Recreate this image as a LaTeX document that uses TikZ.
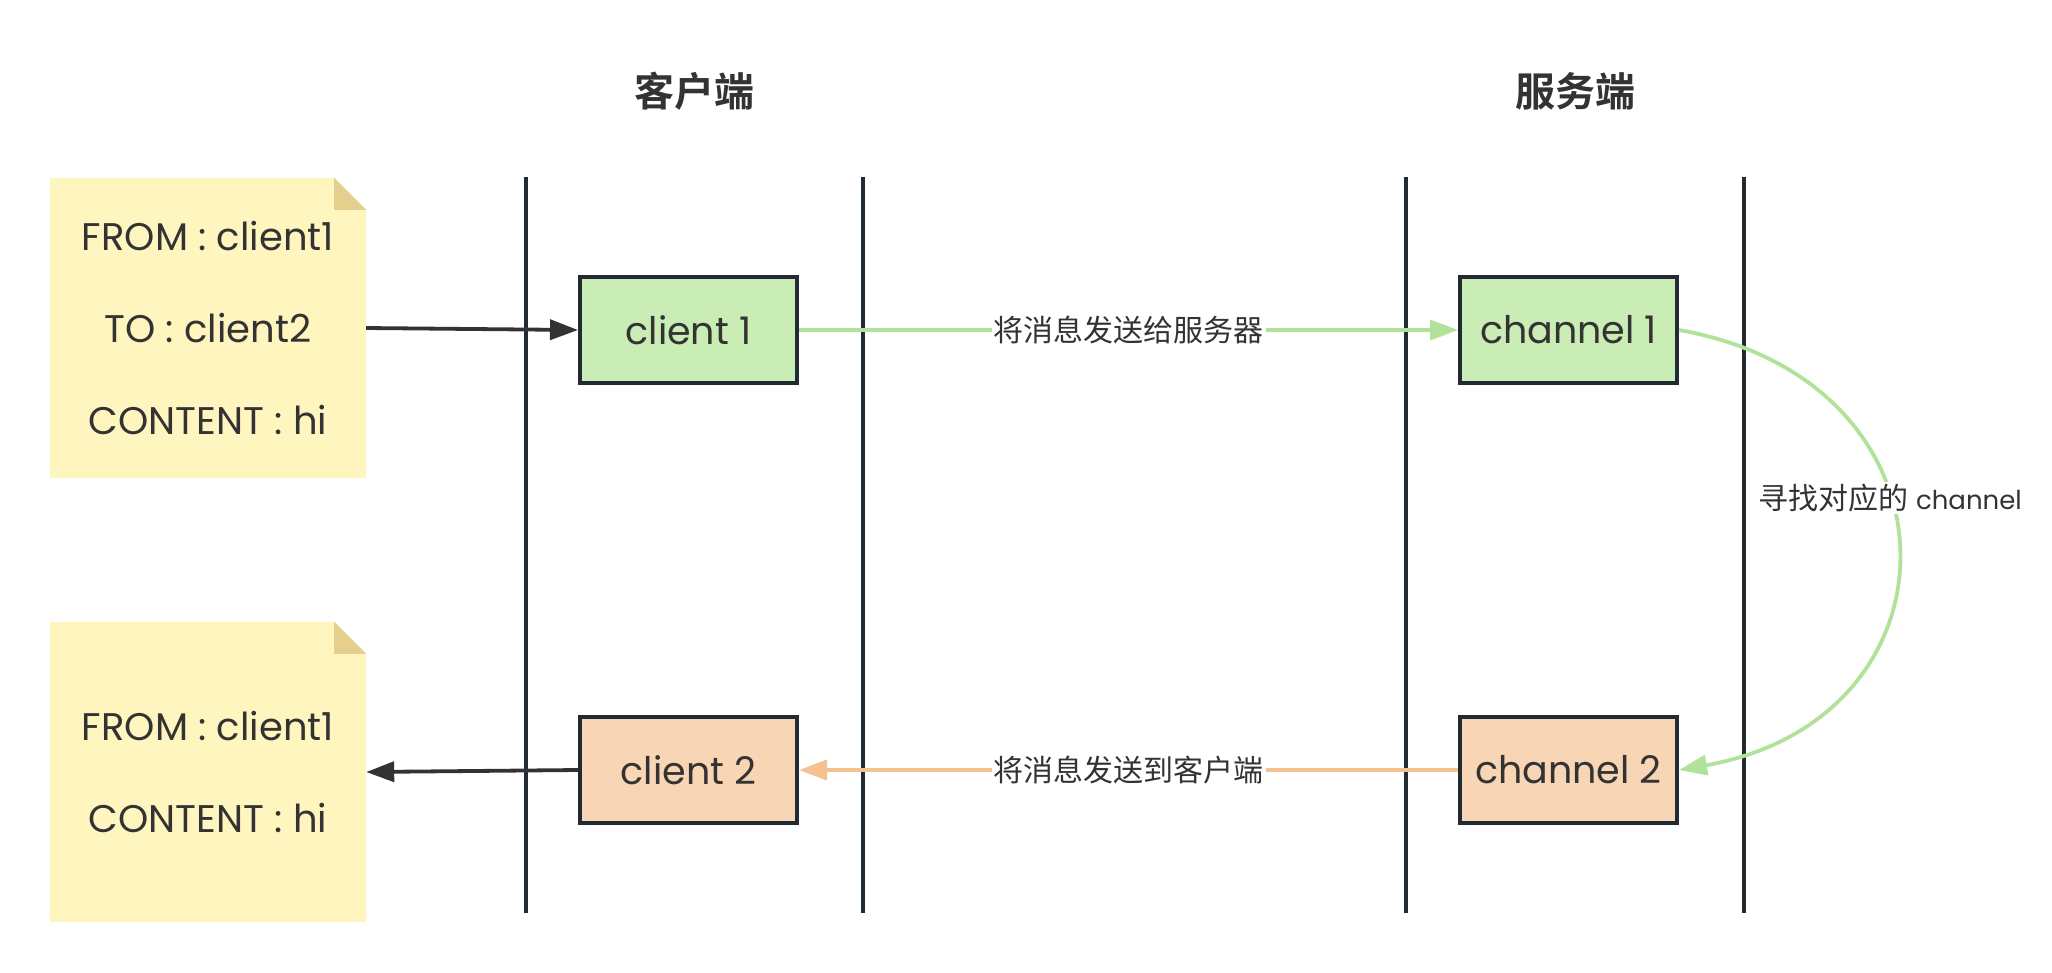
\documentclass[tikz,border=0pt]{standalone}
\usepackage{fontspec}
\setmainfont{Poppins}
\newfontfamily\cjk[BoldFont={Noto Sans CJK SC Bold}]{Noto Sans CJK SC}
\usepackage{tikz}
\usetikzlibrary{arrows.meta, backgrounds}
\definecolor{ink}{HTML}{333333}
\definecolor{laneline}{HTML}{222A33}
\definecolor{notefill}{HTML}{FFF5BF}
\definecolor{notefold}{HTML}{E4D08C}
\definecolor{sendfill}{HTML}{C9EDB4}
\definecolor{recvfill}{HTML}{F8D5B4}
\definecolor{sendline}{HTML}{B1E29A}
\definecolor{recvline}{HTML}{F4C290}

\begin{document}
\begin{tikzpicture}[x=1pt, y=-1pt,
    title/.style={font=\cjk\bfseries\fontsize{40}{48}\selectfont, text=ink},
    lane/.style={line width=4pt, laneline},
    note/.style={minimum width=316pt, minimum height=300pt, inner sep=0pt, align=center, text=ink, font=\fontsize{38.5}{92}\selectfont},
    box/.style={draw=laneline, line width=4pt, minimum width=217pt, minimum height=106pt, inner sep=0pt, text=ink, font=\fontsize{38}{44}\selectfont},
    flow/.style={line width=3.8pt, -{Triangle[length=28pt, width=20pt]}},
    msg/.style={fill=white, inner sep=2pt, text=ink, font=\fontsize{30}{36}\selectfont}]
    \useasboundingbox (0,0) rectangle (2052,972);
    % Headers
    \node[title] (clienthead) at (694,91) {客户端};
    \node[title] (serverhead) at (1575,91) {服务端};
    % Lanes
    \draw[lane] (526,177) -- (526,913);
    \draw[lane] (863,177) -- (863,913);
    \draw[lane] (1406,177) -- (1406,913);
    \draw[lane] (1744,177) -- (1744,913);
    % Messages
    \node[note] (note1) at (208,328) {FROM : client1\\TO : client2\\CONTENT : hi};
    \node[note] (note2) at (208,772) {FROM : client1\\CONTENT : hi};
    \begin{scope}[on background layer]
        \foreach \n in {note1, note2} {
            \fill[notefill] (\n.north west) -- ([xshift=-32pt]\n.north east) -- ([yshift=-32pt]\n.north east)
                -- (\n.south east) -- (\n.south west) -- cycle;
            \fill[notefold] ([xshift=-32pt]\n.north east) -- ([xshift=-32pt, yshift=-32pt]\n.north east)
                -- ([yshift=-32pt]\n.north east) -- cycle;
        }
    \end{scope}
    % Boxes
    \node[box, fill=sendfill] (client1) at (688.5,330) {client 1};
    \node[box, fill=recvfill] (client2) at (688.5,770) {client 2};
    \node[box, fill=sendfill] (channel1) at (1568.5,330) {channel 1};
    \node[box, fill=recvfill] (channel2) at (1568.5,770) {channel 2};
    % Flow
    \draw[flow, ink] (note1.east) -- (client1.west);
    \draw[flow, sendline] (client1.east) -- node[msg] {\cjk 将消息发送给服务器} (channel1.west);
    \draw[flow, sendline] (channel1.east) to[out=-10, in=10, looseness=1.72]
        node[msg, pos=0.41] {{\cjk 寻找对应的} {\fontsize{26}{36}\selectfont channel}} (channel2.east);
    \draw[flow, recvline] (channel2.west) -- node[msg] {\cjk 将消息发送到客户端} (client2.east);
    \draw[flow, ink] (client2.west) -- (note2.east);
\end{tikzpicture}
\end{document}
